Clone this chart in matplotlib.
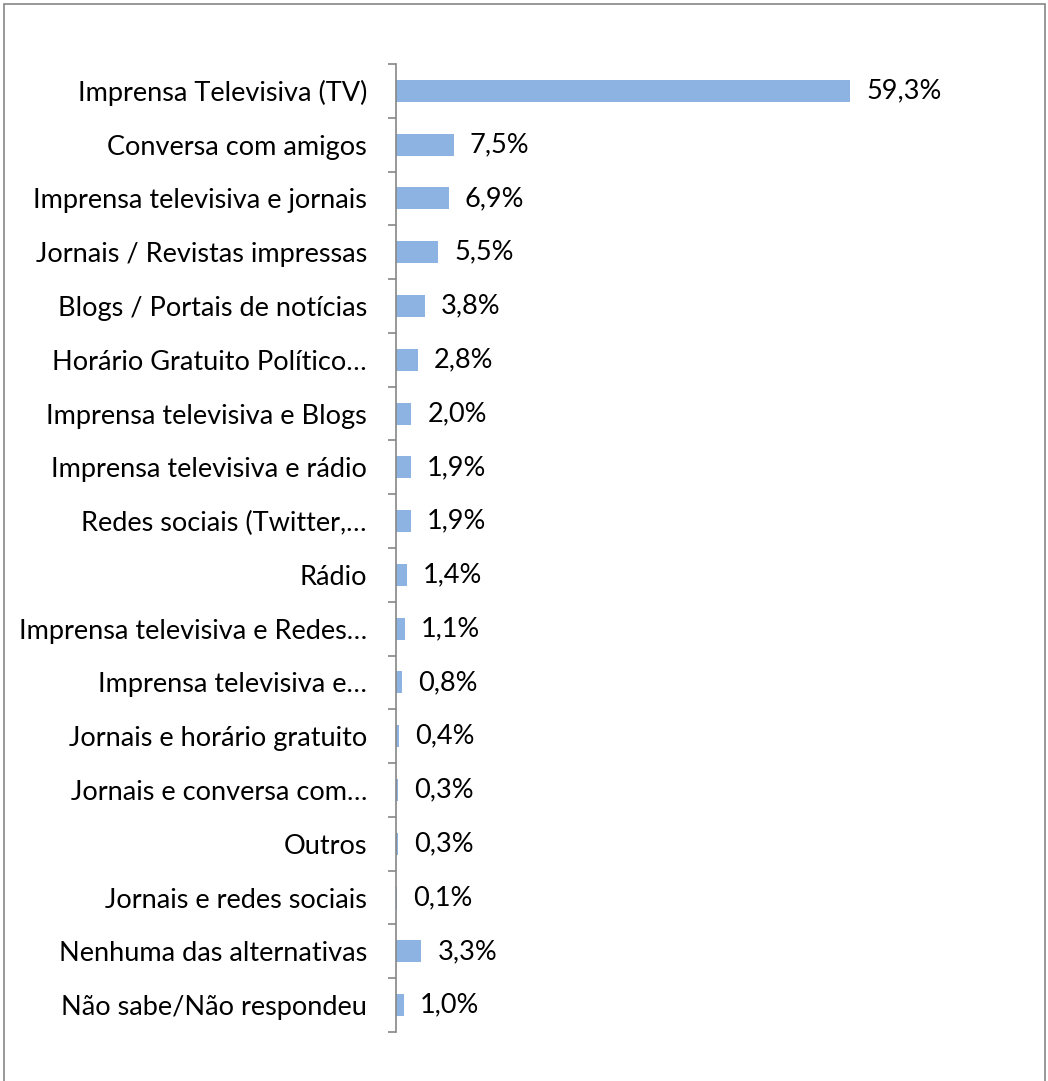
import matplotlib.pyplot as plt
from matplotlib.patches import Rectangle
import numpy as np

categories = [
    "Imprensa Televisiva (TV)",
    "Conversa com amigos",
    "Imprensa televisiva e jornais",
    "Jornais / Revistas impressas",
    "Blogs / Portais de notícias",
    "Horário Gratuito Político…",
    "Imprensa televisiva e Blogs",
    "Imprensa televisiva e rádio",
    "Redes sociais (Twitter,…",
    "Rádio",
    "Imprensa televisiva e Redes…",
    "Imprensa televisiva e…",
    "Jornais e horário gratuito",
    "Jornais e conversa com…",
    "Outros",
    "Jornais e redes sociais",
    "Nenhuma das alternativas",
    "Não sabe/Não respondeu",
]
values = [59.3, 7.5, 6.9, 5.5, 3.8, 2.8, 2.0, 1.9, 1.9, 1.4, 1.1, 0.8, 0.4, 0.3, 0.3, 0.1, 3.3, 1.0]
value_labels = ["59,3%", "7,5%", "6,9%", "5,5%", "3,8%", "2,8%", "2,0%", "1,9%", "1,9%",
                "1,4%", "1,1%", "0,8%", "0,4%", "0,3%", "0,3%", "0,1%", "3,3%", "1,0%"]

plt.rcParams['font.family'] = ['Lato', 'DejaVu Sans']
fs = 19.5

fig = plt.figure(figsize=(10.48, 10.81), dpi=100)
ax = fig.add_axes([0.378, 0.0453, 0.52, 0.8955])

y = np.arange(len(categories))
ax.barh(y, values, height=0.41, color="#8DB3E2")
for yi, v, lab in zip(y, values, value_labels):
    ax.annotate(lab, (v, yi), xytext=(11.5, 0), textcoords="offset points",
                va="center", ha="left", fontsize=fs)

ax.set_ylim(len(categories) - 0.5, -0.5)
ax.set_xlim(0, 71.2)
ax.set_yticks(y)
ax.set_yticklabels(categories, fontsize=fs)
ax.tick_params(axis="y", which="major", length=0, pad=21)
ax.set_yticks(np.arange(len(categories) + 1) - 0.5, minor=True)
ax.tick_params(axis="y", which="minor", length=6, color="#868686", width=1.2)
ax.set_xticks([])
for s in ["top", "right", "bottom"]:
    ax.spines[s].set_visible(False)
ax.spines["left"].set_color("#868686")
ax.spines["left"].set_linewidth(1.2)

fig.patches.append(Rectangle((0.004, -0.01), 0.993, 1.006, transform=fig.transFigure,
                             fill=False, edgecolor="#868686", linewidth=1.2))

fig.savefig("out.png", dpi=100)
